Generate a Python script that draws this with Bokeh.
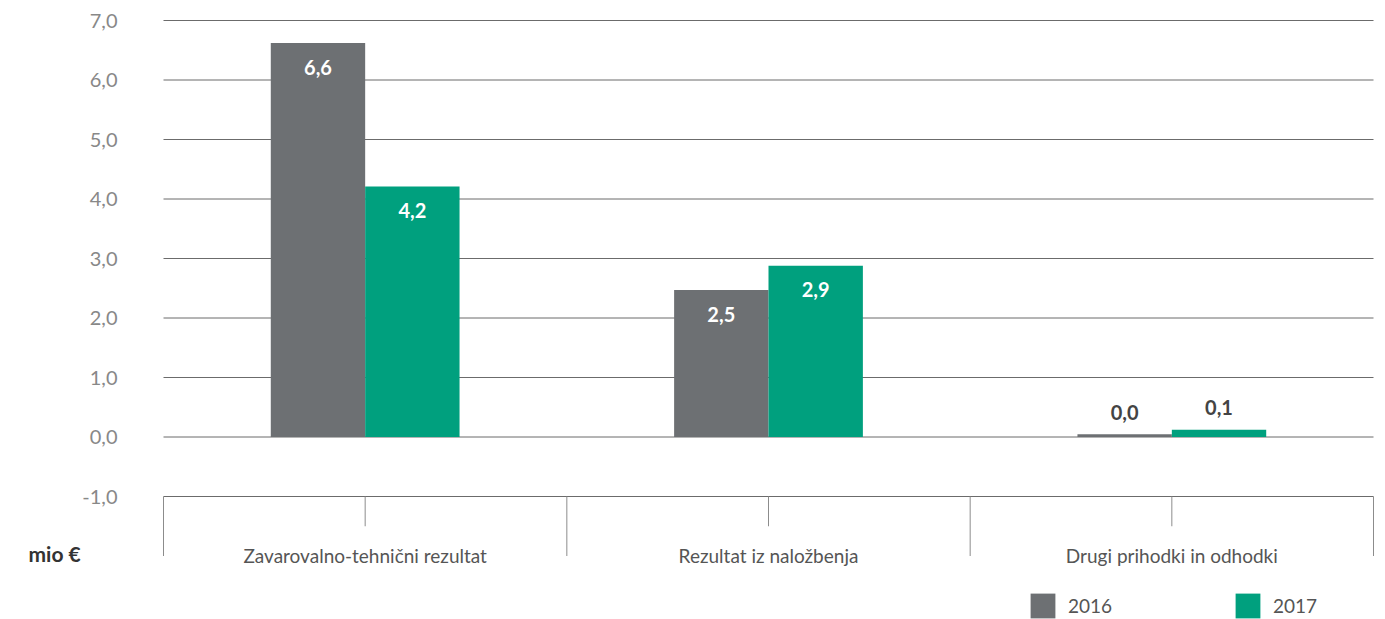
from bokeh.plotting import figure
from bokeh.models import Range1d, Legend, LegendItem
from bokeh.core.properties import value
from bokeh.embed import file_html
from bokeh.resources import INLINE

categories = ["Zavarovalno-tehnični rezultat", "Rezultat iz naložbenja", "Drugi prihodki in odhodki"]
series_names = ["2016", "2017"]
values_2016 = [6.62, 2.47, 0.045]
values_2017 = [4.21, 2.88, 0.12]
y_ticks = [-1, 0, 1, 2, 3, 4, 5, 6, 7]
y_tick_labels = ["-1,0", "0,0", "1,0", "2,0", "3,0", "4,0", "5,0", "6,0", "7,0"]
unit_label = "mio €"

C2016 = "#6d7073"
C2017 = "#00a07e"
FONT = "Lato"

W, H = 1385, 619
PX_Y = 59.5
PX_X = 1210 / 3
x_start = -163 / PX_X
x_end = 3 + (W - 1373) / PX_X
y_end = 7 + 20 / PX_Y
y_start = y_end - H / PX_Y

p = figure(width=W, height=H, output_backend="svg", toolbar_location=None,
           x_range=Range1d(x_start, x_end), y_range=Range1d(y_start, y_end),
           min_border=0, min_border_left=0, min_border_right=0, min_border_top=0, min_border_bottom=0)
p.outline_line_color = None
p.axis.visible = False
p.grid.visible = False

n = len(categories)

# horizontal grid lines over the category span
p.segment(x0=[0] * len(y_ticks), y0=y_ticks, x1=[n] * len(y_ticks), y1=y_ticks,
          line_color="#6b6b6b", line_width=1)
# y tick labels
p.text(x=[0] * len(y_ticks), y=y_ticks, text=y_tick_labels, x_offset=-46,
       text_align="right", text_baseline="middle", text_font=value(FONT),
       text_font_size="20px", text_color="#888888")

centers = [i + 0.5 for i in range(n)]
bw = 0.234
x16 = [c - bw / 2 for c in centers]
x17 = [c + bw / 2 for c in centers]

r16 = p.vbar(x=x16, top=values_2016, bottom=0, width=bw, fill_color=C2016, line_color=None)
r17 = p.vbar(x=x17, top=values_2017, bottom=0, width=bw, fill_color=C2017, line_color=None)

# category box lines
p.segment(x0=list(range(n + 1)), y0=[-1] * (n + 1), x1=list(range(n + 1)), y1=[-2.0] * (n + 1),
          line_color="#8c8c8c", line_width=1)
p.segment(x0=centers, y0=[-1] * n, x1=centers, y1=[-1.5] * n, line_color="#8c8c8c", line_width=1)
p.text(x=centers, y=[-1.99] * n, text=categories, text_align="center", text_baseline="middle",
       text_font=value(FONT), text_font_size="19px", text_color="#555555")

# value labels
def fmt(v):
    return f"{v:.1f}".replace(".", ",")

xs_in, ys_in, t_in, xs_out, ys_out, t_out = [], [], [], [], [], []
for xs, vals in ((x16, values_2016), (x17, values_2017)):
    for x, v in zip(xs, vals):
        if v > 0.5:
            xs_in.append(x); ys_in.append(v); t_in.append(fmt(v))
        else:
            xs_out.append(x); ys_out.append(v); t_out.append(fmt(v))
p.text(x=xs_in, y=ys_in, text=t_in, y_offset=24, text_align="center", text_baseline="middle",
       text_font=value(FONT), text_font_style="bold", text_font_size="20px", text_color="white")
p.text(x=xs_out, y=ys_out, text=t_out, y_offset=-22, text_align="center", text_baseline="middle",
       text_font=value(FONT), text_font_style="bold", text_font_size="20px", text_color="#444444")

# unit label
p.text(x=[0], y=[-1.96], text=[unit_label], x_offset=-135, text_align="left", text_baseline="middle",
       text_font=value(FONT), text_font_style="bold", text_font_size="21px", text_color="#333333")

# legend
legend = Legend(items=[LegendItem(label=series_names[0], renderers=[r16]),
                       LegendItem(label=series_names[1], renderers=[r17])],
                orientation="horizontal", location=(1027, -2), padding=0, margin=0,
                glyph_width=31, glyph_height=31, label_standoff=10, label_width=150, spacing=14,
                border_line_alpha=0, background_fill_alpha=0,
                label_text_font=FONT, label_text_font_size="19px", label_text_color="#555555")
p.add_layout(legend, "center")

open("out.html", "w").write(file_html(p, INLINE))
